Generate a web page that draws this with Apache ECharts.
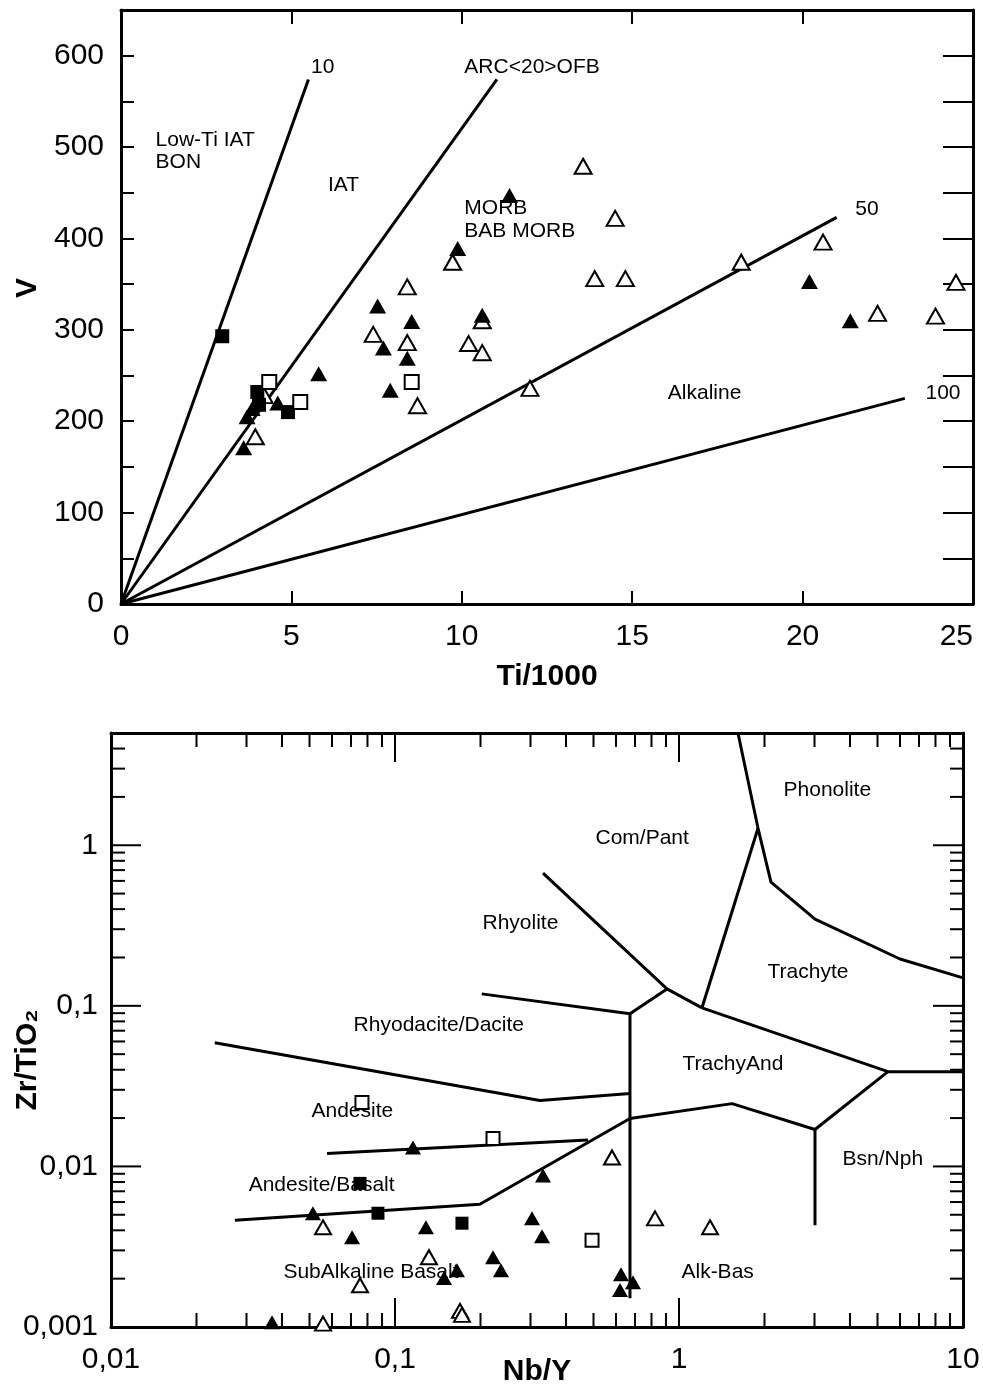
<!DOCTYPE html>
<html>
<head>
<meta charset="utf-8">
<script src="https://cdn.jsdelivr.net/npm/echarts@6/dist/echarts.min.js"></script>
<style>
html, body { margin: 0; padding: 0; background: #fff; }
#main { width: 983px; height: 1390px; }
</style>
</head>
<body>
<div id="main"></div>
<script>
var F = 'Liberation Sans, Arial, sans-serif';

// ---------- top: Ti/1000 vs V ----------
var tiFilledTri = [[3.6,171],[3.7,205],[3.85,214],[4.6,220],[5.8,252],[7.53,326],[7.7,280],[7.9,234],[8.4,269],[8.53,309],[9.88,389],[10.6,316],[11.4,447],[20.2,353],[21.4,310]];
var tiOpenTri = [[3.94,183],[4.2,228],[7.4,295],[8.4,347],[8.4,286],[8.7,217],[9.73,374],[10.2,285],[10.6,310],[10.6,275],[12.0,236],[13.56,479],[13.9,356],[14.5,422],[14.8,356],[18.2,374],[20.6,396],[22.2,318],[23.9,315],[24.5,352]];
var tiFilledSq = [[2.97,293],[4.0,232],[4.05,218],[4.9,210]];
var tiOpenSq = [[4.35,243],[5.26,221],[8.53,243]];

// Ti/V ratio lines, drawn from the origin
var ratio10 = [[0,0],[5.5,574]];
var ratio20 = [[0,0],[11.03,574]];
var ratio50 = [[0,0],[21.0,423]];
var ratio100 = [[0,0],[23.0,225]];

var tiLabels = [
  ['10', 5.56, 587], ['ARC<20>OFB', 10.06, 587], ['Low-Ti IAT', 1.0, 507], ['BON', 1.0, 483],
  ['IAT', 6.06, 458], ['MORB', 10.06, 433], ['BAB MORB', 10.06, 408], ['50', 21.53, 432],
  ['Alkaline', 16.03, 231], ['100', 23.59, 231]
];

// ---------- bottom: Nb/Y vs Zr/TiO2 ----------
var nbFilledTri = [[0.1157,0.01312],[0.0514,0.00511],[0.0706,0.00362],[0.1285,0.00418],[0.1653,0.00226],[0.1488,0.00202],[0.0369,0.00107],[0.332,0.00879],[0.3037,0.00475],[0.3294,0.00367],[0.2214,0.00272],[0.2361,0.00226],[0.6249,0.00213],[0.6887,0.0019],[0.6198,0.0017]];
var nbOpenTri = [[0.0558,0.00418],[0.1317,0.00272],[0.0753,0.00182],[0.1694,0.00126],[0.1721,0.00119],[0.0558,0.00105],[0.5808,0.01137],[0.8232,0.00475],[1.286,0.00418]];
var nbFilledSq = [[0.0753,0.00784],[0.0871,0.00511],[0.1721,0.00443]];
var nbOpenSq = [[0.0765,0.025],[0.2214,0.01493],[0.4941,0.00347]];

// field boundaries
var bAndesiteTop = [[0.0232,0.0589],[0.324,0.0257],[0.672,0.0284]];
var bRhyodaciteTop = [[0.202,0.1187],[0.672,0.0892],[0.907,0.1275]];
var bAlkVertical = [[0.672,0.0892],[0.672,0.00151]];
var bRhyolite = [[0.332,0.67],[0.907,0.1275],[1.205,0.0972]];
var bTrachyAndTop = [[1.205,0.0972],[5.443,0.0389],[10,0.0389]];
var bComPant = [[1.205,0.0972],[1.898,1.275]];
var bPhonolite = [[1.613,5],[1.898,1.275],[2.108,0.589],[3.012,0.347],[6.0,0.1957],[10,0.1492]];
var bAndBasaltTop = [[0.0576,0.01204],[0.478,0.01463]];
var bBasaltTop = [[0.0273,0.00462],[0.199,0.00581],[0.672,0.01986],[1.537,0.0246],[3.012,0.01698],[5.443,0.0389]];
var bBsnNph = [[3.012,0.01698],[3.012,0.0043]];

var nbLabels = [
  ['Phonolite', 2.324, 2.196], ['Com/Pant', 0.506, 1.105], ['Rhyolite', 0.2024, 0.3278],
  ['Trachyte', 2.041, 0.1627], ['Rhyodacite/Dacite', 0.0712, 0.0762], ['TrachyAnd', 1.025, 0.0436],
  ['Andesite', 0.0506, 0.02196], ['Andesite/Basalt', 0.0304, 0.00762], ['Bsn/Nph', 3.75, 0.01105],
  ['SubAlkaline Basalt', 0.0403, 0.0022], ['Alk-Bas', 1.016, 0.0022]
];

// log axis ticks
var logXMajor = [0.01, 0.1, 1, 10];
var logXMinor = [0.02,0.03,0.04,0.05,0.06,0.07,0.08,0.09,0.2,0.3,0.4,0.5,0.6,0.7,0.8,0.9,2,3,4,5,6,7,8,9];
var logYMajor = [0.001, 0.01, 0.1, 1];
var logYMinor = [0.002,0.003,0.004,0.005,0.006,0.007,0.008,0.009,0.02,0.03,0.04,0.05,0.06,0.07,0.08,0.09,0.2,0.3,0.4,0.5,0.6,0.7,0.8,0.9,2,3,4];
var LX = [0.01, 10], LY = [0.001, 5];

function commaLabel(v) {
  var l = Math.log10(v), e = Math.round(l);
  if (Math.abs(l - e) > 1e-6) return '';
  return e < 0 ? Math.pow(10, e).toFixed(-e).replace('.', ',') : String(Math.pow(10, e));
}

var black = '#000';
var axisLine = { show: true, onZero: false, lineStyle: { color: black, width: 3 } };
var tickLbl = { fontSize: 30, color: black, fontFamily: F };
var nameStyle = { fontSize: 30, fontWeight: 'bold', color: black, fontFamily: F };

function pts(data, sym, size, filled, xi, yi) {
  return {
    type: 'scatter', xAxisIndex: xi, yAxisIndex: yi, z: 4, data: data,
    symbol: sym, symbolSize: size, silent: true,
    itemStyle: filled ? { color: black, opacity: 1 } : { color: '#fff', borderColor: black, borderWidth: 2, opacity: 1 }
  };
}
function seg(data, xi, yi) {
  return {
    type: 'line', xAxisIndex: xi, yAxisIndex: yi, z: 2, data: data, showSymbol: false, silent: true,
    lineStyle: { color: black, width: 3, opacity: 1 }
  };
}
function texts(list, xi, yi) {
  return {
    type: 'scatter', xAxisIndex: xi, yAxisIndex: yi, z: 1, symbolSize: 1, silent: true,
    itemStyle: { color: 'rgba(0,0,0,0)', opacity: 1 },
    data: list.map(function (t) { return { name: t[0], value: [t[1], t[2]] }; }),
    label: { show: true, position: 'right', distance: 0, formatter: '{b}', fontSize: 21, color: black, opacity: 1, fontFamily: F }
  };
}
// side: 'b','t','l','r'
function ticks(vals, side, len) {
  var data = vals.map(function (v) {
    if (side === 'b') return [v, LY[0]];
    if (side === 't') return [v, LY[1]];
    if (side === 'l') return [LX[0], v];
    return [LX[1], v];
  });
  return {
    type: 'custom', xAxisIndex: 2, yAxisIndex: 2, z: 3, silent: true, data: data,
    renderItem: function (params, api) {
      var p = api.coord([api.value(0), api.value(1)]);
      var q = [p[0], p[1]];
      if (side === 'b') q[1] -= len;
      else if (side === 't') q[1] += len;
      else if (side === 'l') q[0] += len;
      else q[0] -= len;
      return { type: 'line', shape: { x1: p[0], y1: p[1], x2: q[0], y2: q[1] }, style: { stroke: black, lineWidth: 2 } };
    }
  };
}

var chart = echarts.init(document.getElementById('main'));
chart.setOption({
  animation: false,
  backgroundColor: '#fff',
  grid: [
    { left: 121, top: 10, width: 852, height: 594, containLabel: false, outerBoundsMode: 'none' },
    { left: 111, top: 733, width: 852, height: 594, containLabel: false, outerBoundsMode: 'none' }
  ],
  xAxis: [
    { gridIndex: 0, type: 'value', min: 0, max: 25, interval: 5, position: 'bottom', axisLine: axisLine,
      axisTick: { inside: true, length: 13, lineStyle: { color: black, width: 2 } },
      axisLabel: Object.assign({ margin: 18, alignMaxLabel: 'right' }, tickLbl), splitLine: { show: false },
      name: 'Ti/1000', nameLocation: 'middle', nameGap: 58, nameMoveOverlap: false, nameTextStyle: nameStyle },
    { gridIndex: 0, type: 'value', min: 0, max: 25, interval: 5, position: 'top', axisLine: axisLine,
      axisTick: { inside: true, length: 14, lineStyle: { color: black, width: 2 } },
      axisLabel: { show: false }, splitLine: { show: false } },
    { gridIndex: 1, type: 'log', logBase: 10, min: LX[0], max: LX[1], position: 'bottom', axisLine: axisLine,
      axisTick: { show: false }, splitLine: { show: false },
      axisLabel: Object.assign({ margin: 18, formatter: commaLabel }, tickLbl),
      name: 'Nb/Y', nameLocation: 'middle', nameGap: 30, nameMoveOverlap: false, nameTextStyle: nameStyle },
    { gridIndex: 1, type: 'log', logBase: 10, min: LX[0], max: LX[1], position: 'top', axisLine: axisLine,
      axisTick: { show: false }, splitLine: { show: false }, axisLabel: { show: false } }
  ],
  yAxis: [
    { gridIndex: 0, type: 'value', min: 0, max: 650, interval: 100, position: 'left', axisLine: axisLine,
      axisTick: { inside: true, length: 13, lineStyle: { color: black, width: 2 } },
      minorTick: { show: true, splitNumber: 2, length: 13, lineStyle: { color: black, width: 2 } },
      axisLabel: Object.assign({ margin: 17, formatter: function (v) { return v % 100 === 0 ? String(v) : ''; } }, tickLbl),
      splitLine: { show: false }, minorSplitLine: { show: false } },
    { gridIndex: 0, type: 'value', min: 0, max: 650, interval: 100, position: 'right', axisLine: axisLine,
      axisTick: { inside: true, length: 30, lineStyle: { color: black, width: 2 } },
      minorTick: { show: true, splitNumber: 2, length: 30, lineStyle: { color: black, width: 2 } },
      axisLabel: { show: false }, splitLine: { show: false } },
    { gridIndex: 1, type: 'log', logBase: 10, min: LY[0], max: LY[1], position: 'left', axisLine: axisLine,
      axisTick: { show: false }, splitLine: { show: false },
      axisLabel: Object.assign({ margin: 13, formatter: commaLabel }, tickLbl) },
    { gridIndex: 1, type: 'log', logBase: 10, min: LY[0], max: LY[1], position: 'right', axisLine: axisLine,
      axisTick: { show: false }, splitLine: { show: false }, axisLabel: { show: false } }
  ],
  graphic: [
    { type: 'text', x: 28, y: 288, rotation: Math.PI / 2,
      style: { text: 'V', font: 'bold 30px ' + F, fill: black, textAlign: 'center', textVerticalAlign: 'middle' } },
    { type: 'text', x: 28, y: 1060, rotation: Math.PI / 2,
      style: { text: 'Zr/TiO\u2082', font: 'bold 30px ' + F, fill: black, textAlign: 'center', textVerticalAlign: 'middle' } }
  ],
  series: [
    texts(tiLabels, 0, 0),
    seg(ratio10, 0, 0), seg(ratio20, 0, 0), seg(ratio50, 0, 0), seg(ratio100, 0, 0),
    pts(tiOpenTri, 'triangle', [17, 15], false, 0, 0),
    pts(tiFilledSq, 'rect', 14, true, 0, 0),
    pts(tiOpenSq, 'rect', 14, false, 0, 0),
    pts(tiFilledTri, 'triangle', [17, 15], true, 0, 0),

    texts(nbLabels, 2, 2),
    seg(bAndesiteTop, 2, 2), seg(bRhyodaciteTop, 2, 2), seg(bAlkVertical, 2, 2), seg(bRhyolite, 2, 2),
    seg(bTrachyAndTop, 2, 2), seg(bComPant, 2, 2), seg(bPhonolite, 2, 2), seg(bAndBasaltTop, 2, 2),
    seg(bBasaltTop, 2, 2), seg(bBsnNph, 2, 2),
    ticks(logXMajor, 'b', 29), ticks(logXMinor, 'b', 14),
    ticks(logXMajor, 't', 29), ticks(logXMinor, 't', 14),
    ticks(logYMajor, 'l', 30), ticks(logYMinor, 'l', 14),
    ticks(logYMajor, 'r', 30), ticks(logYMinor, 'r', 13),
    pts(nbOpenTri, 'triangle', [16, 14], false, 2, 2),
    pts(nbFilledSq, 'rect', 13, true, 2, 2),
    pts(nbOpenSq, 'rect', 13, false, 2, 2),
    pts(nbFilledTri, 'triangle', [16, 14], true, 2, 2)
  ]
});
</script>
</body>
</html>
